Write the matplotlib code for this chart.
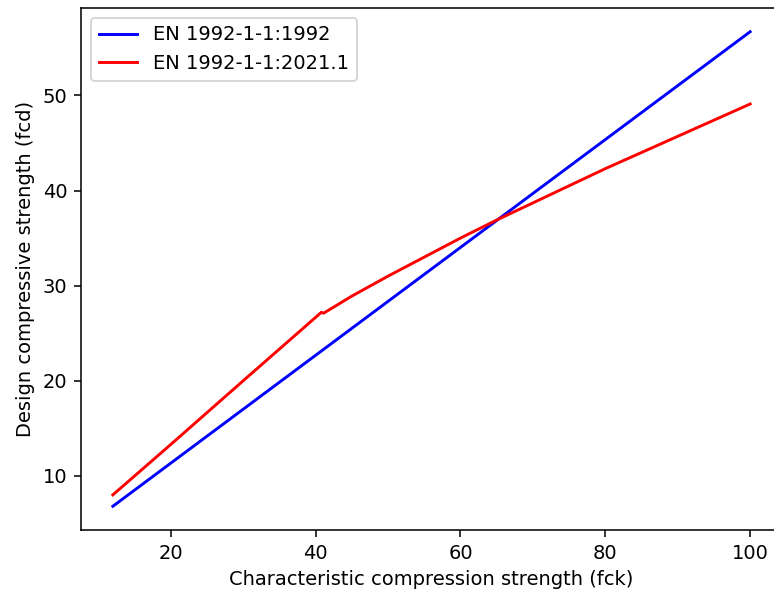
import matplotlib
matplotlib.use("Agg")
import matplotlib.pyplot as plt

# EN 1992-1-1:1992
fck_1992 = [12, 100]
fcd_1992 = [6.8, 56.7]

# EN 1992-1-1:2021.1
fck_2021 = [12, 20, 30, 40.8, 41.1, 45, 50, 55, 60, 65, 70, 75, 80, 85, 90, 95, 100]
fcd_2021 = [8.0, 13.3, 20.0, 27.2, 27.1, 28.9, 31.0, 33.0, 35.0, 36.9, 38.7,
            40.5, 42.3, 44.0, 45.7, 47.4, 49.1]

DPI = 140
fig = plt.figure(figsize=(774 / DPI, 597 / DPI), dpi=DPI)
# axes run a little past the right edge, like the cropped original
ax = fig.add_axes([81 / 774, 67 / 597, 701 / 774, 522 / 597])

ax.plot(fck_1992, fcd_1992, color="blue", label="EN 1992-1-1:1992")
ax.plot(fck_2021, fcd_2021, color="red", label="EN 1992-1-1:2021.1")

ax.set_xlabel("Characteristic compression strength (fck)")
ax.set_ylabel("Design compressive strength (fcd)")
ax.legend(loc="upper left")

fig.savefig("out.png", dpi=DPI)
